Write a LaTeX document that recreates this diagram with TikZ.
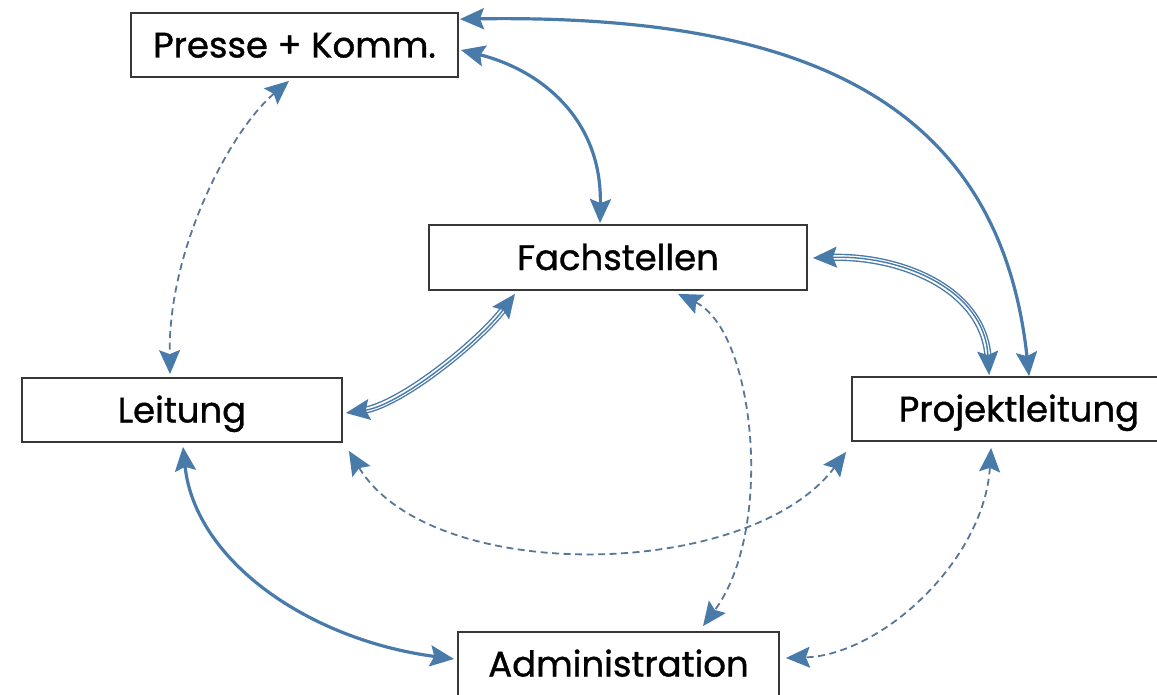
\documentclass[tikz,border=0pt]{standalone}
\usepackage{fontspec}
\setmainfont{Poppins}[FakeBold=1.1]
\usetikzlibrary{arrows.meta,calc}
\definecolor{linkblue}{RGB}{72,122,170}
\definecolor{dashblue}{RGB}{88,118,150}
\definecolor{boxline}{RGB}{55,55,55}
\begin{document}
\begin{tikzpicture}[x=1pt,y=-1pt,
  unit/.style={draw=boxline, line width=1.8pt, fill=white, inner sep=0pt,
    minimum height=64pt, font=\fontsize{35.5}{42}\selectfont,
    text height=25pt, text depth=0pt},
  bigtip/.style={{Stealth[length=24pt,width=21pt,inset=4pt,color=linkblue]}-{Stealth[length=24pt,width=21pt,inset=4pt,color=linkblue]}},
  strong/.style={draw=linkblue, line width=3.2pt, bigtip},
  loose/.style={draw=dashblue, line width=1.8pt, dash pattern=on 7pt off 4.5pt, bigtip},
  triple/.style={draw=linkblue, line width=1.4pt, bigtip,
    preaction={draw=linkblue, -, line width=1.4pt, double=white,
      double distance=4.4pt, shorten <=17pt, shorten >=17pt}}
]
\useasboundingbox (0,0) rectangle (1157,695);

% units
\node[unit, minimum width=327pt] (P)  at (294.5,45)  {Presse + Komm.};
\node[unit, minimum width=378pt, minimum height=65pt] (F) at (618,257.5) {Fachstellen};
\node[unit, minimum width=320pt] (L)  at (182,410)   {Leitung};
\node[unit, minimum width=334pt] (PL) at (1019,409)  {Projektleitung};
\node[unit, minimum width=321pt] (A)  at (618.5,664) {Administration};

% solid links
\draw[strong] ($(P.north east)+(1,7)$)
  .. controls ($(P.north east)+(342,2)$) and ($(PL.north west)+(148,-277)$)
  .. ($(PL.north west)+(178,0)$);
\draw[strong] ($(P.east)+(2,5)$)
  .. controls ($(P.east)+(82,25)$) and ($(F.north)+(-16,-105)$)
  .. ($(F.north)+(-18,-1)$);
\draw[strong] ($(L.south)+(1,4)$)
  .. controls ($(L.south)+(13,118)$) and ($(A.west)+(-148,-24)$)
  .. ($(A.west)+(-3,-5)$);

% triple links
\draw[triple] ($(F.south)+(-103,3)$)
  .. controls ($(F.south)+(-138,50)$) and ($(L.east)+(58,-5)$)
  .. ($(L.east)+(3,3)$);
\draw[triple] ($(F.east)+(5,0.5)$)
  .. controls ($(F.east)+(93,-2.5)$) and ($(PL.north west)+(133,-87)$)
  .. ($(PL.north west)+(138,-1)$);

% dashed links
\draw[loose] ($(P.south)+(-5.5,3)$)
  .. controls ($(P.south)+(-64.5,53)$) and ($(L.north)+(-14,-128)$)
  .. ($(L.north)+(-12,-3)$);
\draw[loose] ($(F.south)+(60,3)$)
  .. controls ($(F.south)+(137,40)$) and ($(A.north)+(156.5,-102)$)
  .. ($(A.north)+(84.5,-5)$);
\draw[loose] ($(L.south east)+(6,8)$)
  .. controls ($(L.south east)+(88,143)$) and ($(PL.south west)+(-102,139)$)
  .. ($(PL.south west)+(-5,10)$);
\draw[loose] ($(PL.south west)+(140,6)$)
  .. controls ($(PL.south west)+(133,119)$) and ($(A.east)+(101,-9)$)
  .. ($(A.east)+(6,-6)$);
\end{tikzpicture}
\end{document}
